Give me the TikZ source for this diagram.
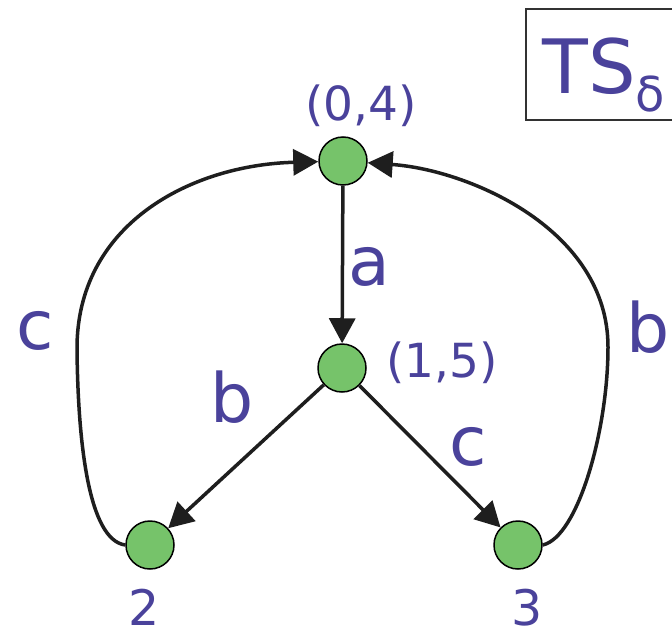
\documentclass[tikz,border=0pt]{standalone}
\usepackage{fontspec}
\setmainfont{DejaVu Sans}
\usetikzlibrary{arrows.meta}
\definecolor{labblue}{RGB}{74,66,155}
\definecolor{stategreen}{RGB}{118,195,106}
\begin{document}
\begin{tikzpicture}[x=1pt,y=-1pt,
  state/.style={circle,draw=black,line width=1.5pt,fill=stategreen,minimum size=48pt,inner sep=0pt},
  edge/.style={line width=3.5pt,draw={rgb,255:red,30;green,30;blue,30},-{Triangle[length=25pt,width=26pt]}},
  biglab/.style={text=labblue,anchor=base,inner sep=0pt,font=\fontsize{68}{80}\selectfont},
  statelab/.style={text=labblue,anchor=base,inner sep=0pt,font=\fontsize{47}{56}\selectfont},
  numlab/.style={text=labblue,anchor=base,inner sep=0pt,font=\fontsize{49}{58}\selectfont}]
\useasboundingbox (0,0) rectangle (672,637);
\clip (0,0) rectangle (672,637);
% title box
\draw[line width=2pt,draw={rgb,255:red,50;green,50;blue,50}] (526,9) rectangle (700,120);
\node[text=labblue,anchor=base west,inner sep=0pt] (title) at (542,93)
  {\fontsize{75}{90}\selectfont TS\raisebox{-18pt}{\fontsize{48}{56}\selectfont δ}};
% states
\node[state] (n0) at (343,161) {};
\node[state] (n1) at (342,368) {};
\node[state] (n2) at (150,545) {};
\node[state] (n3) at (518,545) {};
% state labels
\node[statelab] (l0) at (361,120) {(0,4)};
\node[statelab] (l1) at (442,377) {(1,5)};
\node[numlab] (l2) at (144,625) {2};
\node[numlab] (l3) at (527,625) {3};
% edges
\draw[edge] (n0) -- (n1);
\draw[edge] (n1) -- (n2);
\draw[edge] (n1) -- (n3);
\draw[edge] (n2.west) .. controls (88,540) and (78,440) .. (77,350)
   .. controls (76,225) and (190,165) .. (n0);
\draw[edge] (n3.east) .. controls (578,537) and (608,430) .. (608,347)
   .. controls (608,230) and (470,170) .. (n0);
% edge labels
\node[biglab] (ea) at (369,285) {a};
\node[biglab] (eb) at (232,422) {b};
\node[biglab] (ec) at (468,465) {c};
\node[biglab] (ecl) at (35,349) {c};
\node[biglab] (ebr) at (648,352) {b};
\end{tikzpicture}
\end{document}
